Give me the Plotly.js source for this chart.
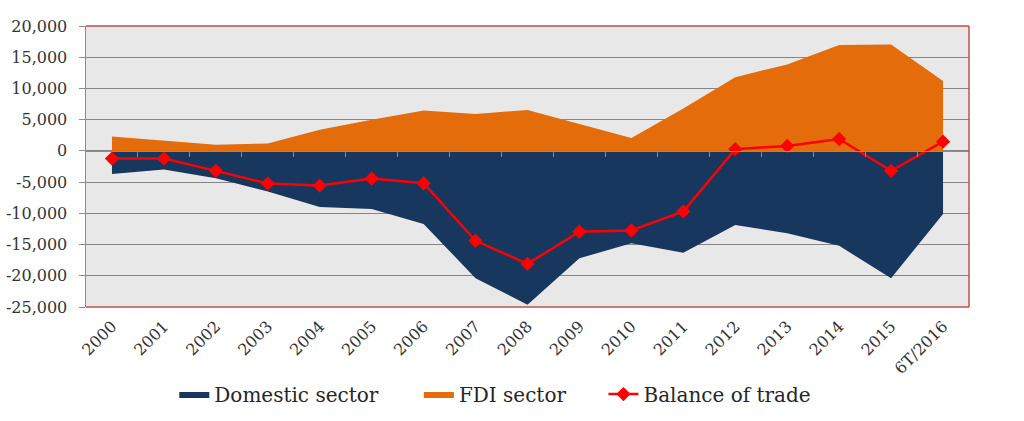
<!DOCTYPE html>
<html>
<head>
<meta charset="utf-8">
<script src="https://cdn.plot.ly/plotly-3.0.1.min.js"></script>
<style>html,body{margin:0;padding:0;background:#fff;}#chart{width:1024px;height:421px;}</style>
</head>
<body>
<div id="chart"></div>
<script>
const categories = ["2000","2001","2002","2003","2004","2005","2006","2007","2008","2009","2010","2011","2012","2013","2014","2015","6T/2016"];
const domesticSector = [-3700,-3000,-4400,-6500,-9000,-9300,-11700,-20400,-24650,-17200,-14800,-16300,-11850,-13200,-15200,-20400,-10100];
const fdiSector = [2300,1650,1000,1200,3400,5000,6450,5900,6550,4300,2050,6800,11800,13850,16950,17050,11200];
const balanceOfTrade = [-1230,-1230,-3200,-5230,-5550,-4430,-5180,-14400,-18100,-12950,-12750,-9700,270,800,1900,-3200,1480];
const yTickVals = [20000,15000,10000,5000,0,-5000,-10000,-15000,-20000,-25000];
const yTickText = ["20,000","15,000","10,000","5,000","0","-5,000","-10,000","-15,000","-20,000","-25,000"];

const serif = 'DejaVu Serif';
const boundaries = [];
for (let i = 0; i < categories.length - 1; i++) boundaries.push(i + 0.5);

const traces = [
  {x: categories, y: domesticSector, name: 'Domestic sector', type: 'scatter', mode: 'lines',
   fill: 'tozeroy', fillcolor: '#17375E', line: {width: 0, color: '#17375E'}, hoverinfo: 'skip', legend: 'legend'},
  {x: categories, y: fdiSector, name: 'FDI sector', type: 'scatter', mode: 'lines',
   fill: 'tozeroy', fillcolor: '#E46C0A', line: {width: 0, color: '#E46C0A'}, hoverinfo: 'skip', legend: 'legend2'},
  {x: categories, y: balanceOfTrade, name: 'Balance of trade', type: 'scatter', mode: 'lines+markers',
   line: {color: '#FF0000', width: 2.5}, marker: {symbol: 'diamond', size: 11, color: '#FF0000'}, hoverinfo: 'skip', legend: 'legend3'}
];

traces.push({x: [0], y: [0], xaxis: 'x2', yaxis: 'y', type: 'scatter', mode: 'markers',
             marker: {opacity: 0}, showlegend: false, hoverinfo: 'skip'});

const legendFont = {family: serif, size: 20, color: '#262626'};
const legendY = -0.31;
function leg(x) {
  return {orientation: 'h', x: x, xanchor: 'left', y: legendY, yanchor: 'middle', font: legendFont,
          bgcolor: 'rgba(0,0,0,0)', borderwidth: 0};
}

const layout = {
  width: 1024, height: 421,
  margin: {l: 86, r: 55, t: 26, b: 114, autoexpand: false},
  paper_bgcolor: '#ffffff',
  plot_bgcolor: '#e8e8e8',
  showlegend: true,
  legend: leg(0.100),
  legend2: leg(0.377),
  legend3: leg(0.586),
  xaxis: {type: 'category', range: [-0.5, categories.length - 0.5], tickangle: -45, automargin: false,
          tickfont: {family: serif, size: 16, color: '#333333'}, showgrid: false, zeroline: false,
          ticks: '', showline: false, ticklabelstandoff: 6, fixedrange: true},
  xaxis2: {overlaying: 'x', anchor: 'free', position: 25000/45000, range: [-0.5, categories.length - 0.5],
           tickmode: 'array', tickvals: boundaries, ticks: 'outside', ticklen: 5, tickcolor: '#8c8c8c',
           showticklabels: false, showgrid: false, zeroline: false, showline: true, automargin: false,
           linecolor: '#8c8c8c', linewidth: 1.5, layer: 'above traces'},
  yaxis: {range: [-25000, 20000], tickmode: 'array', tickvals: yTickVals, ticktext: yTickText, automargin: false,
          tickfont: {family: serif, size: 16, color: '#333333'}, showgrid: true, gridcolor: '#858585',
          gridwidth: 1.2, zeroline: false, ticks: 'outside', ticklen: 6, tickcolor: '#8c8c8c',
          showline: true, linecolor: '#8c8c8c', linewidth: 1.5, ticklabelstandoff: 8, fixedrange: true},
  shapes: [
    {type: 'line', xref: 'paper', yref: 'paper', x0: 0, x1: 1, y0: 1, y1: 1, line: {color: '#C0504D', width: 1.5}},
    {type: 'line', xref: 'paper', yref: 'paper', x0: 1, x1: 1, y0: 0, y1: 1, line: {color: '#C0504D', width: 1.5}},
    {type: 'line', xref: 'paper', yref: 'paper', x0: 0, x1: 1, y0: 0, y1: 0, line: {color: '#C0504D', width: 1.5}}
  ]
};

Plotly.newPlot('chart', traces, layout, {displayModeBar: false, staticPlot: true});
</script>
</body>
</html>
